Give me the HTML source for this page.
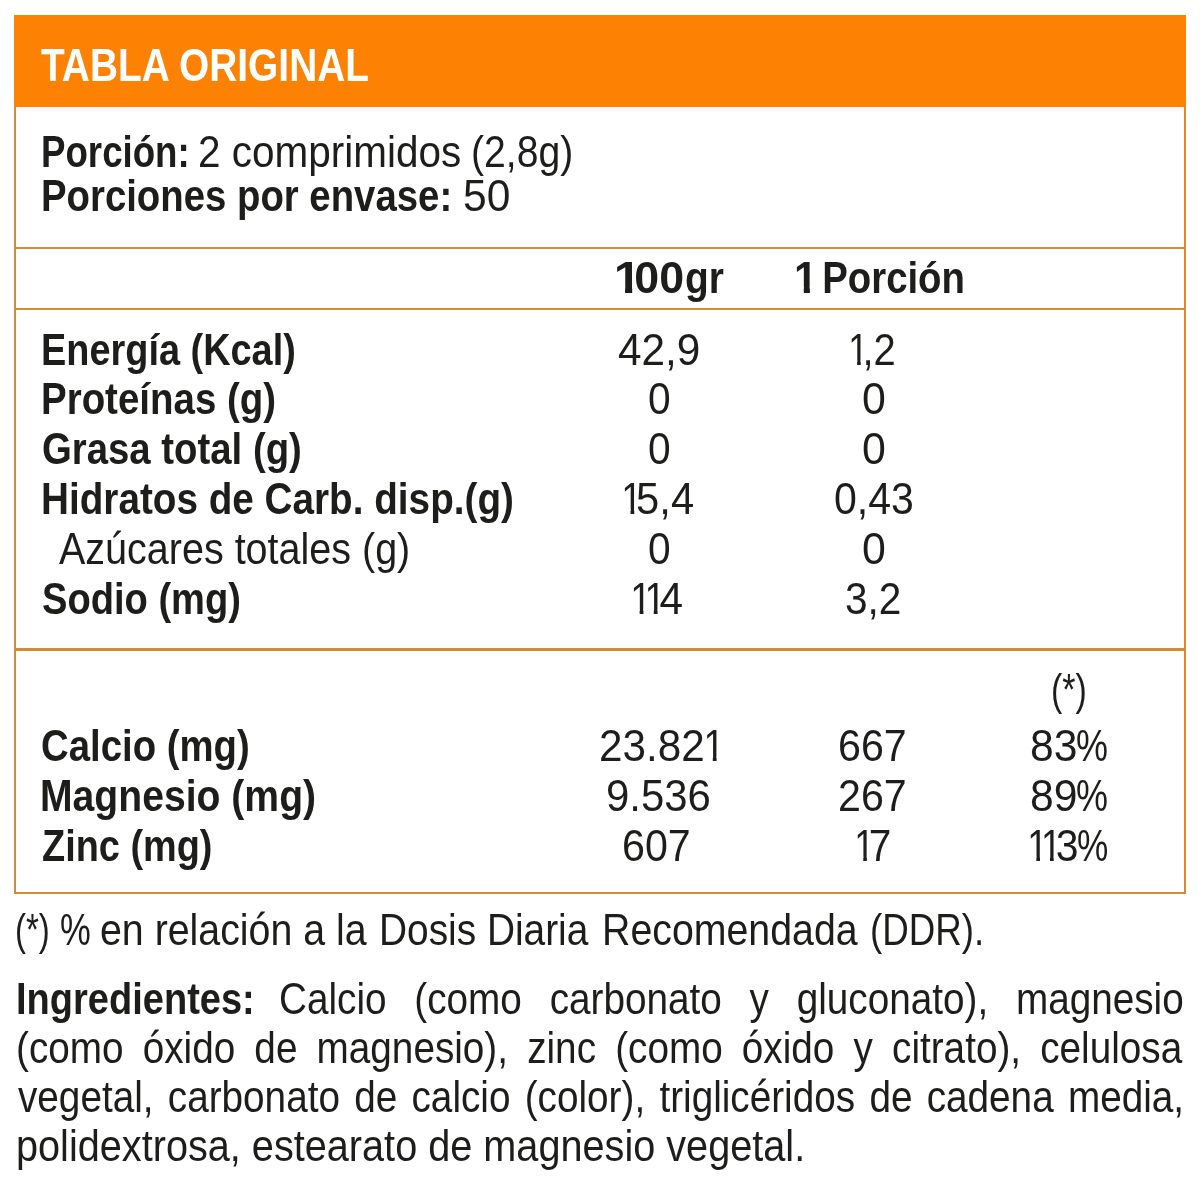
<!DOCTYPE html>
<html lang="es"><head><meta charset="utf-8"><title>Tabla Original</title><style>html,body{margin:0;padding:0;background:#fff}
body{width:1200px;height:1187px;position:relative;overflow:hidden;font-family:"Liberation Sans",sans-serif}
.t{position:absolute;white-space:pre;transform-origin:0 0;font-weight:400;line-height:1}
.t b{font-weight:700}
.t i{font-style:normal;display:inline-block;transform:scaleX(.9);margin:0 -0.168em 0 -0.051em;clip-path:polygon(0 0,100% 0,100% .738em,.345em .738em,.345em 1em,.245em 1em,.245em .738em,0 .738em)}
.t b i{transform:scaleX(1.1);margin:0 -0.124em 0 -0.024em;clip-path:polygon(0 0,100% 0,100% .698em,.375em .698em,.375em 1em,.23em 1em,.23em .698em,0 .698em)}
.j{white-space:normal;text-align:justify;text-align-last:justify}
.r{position:absolute}
</style></head><body>
<div class="r" style="left:14px;top:14.6px;width:1171.9px;height:92.2px;background:#fd8204"></div><div class="r" style="left:13.9px;top:106px;width:2.1px;height:787.8px;background:#d88a32"></div><div class="r" style="left:1183.9px;top:106px;width:2.1px;height:787.8px;background:#d88a32"></div><div class="r" style="left:14px;top:247.2px;width:1172px;height:2.3px;background:#d88a32"></div><div class="r" style="left:14px;top:307.5px;width:1172px;height:2.3px;background:#d88a32"></div><div class="r" style="left:14px;top:648.3px;width:1172px;height:2.4px;background:#d88a32"></div><div class="r" style="left:14px;top:891.6px;width:1172px;height:2.2px;background:#d88a32"></div>
<div class="t" style="left:41.00px;top:41.98px;font-size:46.5px;color:#fff;transform:scaleX(0.8353)"><b>TABLA ORIGINAL</b></div>
<div class="t" style="left:40.96px;top:128.55px;font-size:45.0px;color:#1d1d1b;transform:scaleX(0.8149)"><b>Porción:</b></div>
<div class="t" style="left:197.50px;top:128.55px;font-size:45.0px;color:#1d1d1b;transform:scaleX(0.8997)">2 comprimidos</div>
<div class="t" style="left:470.69px;top:128.55px;font-size:45.0px;color:#1d1d1b;transform:scaleX(0.8705)">(2,8g)</div>
<div class="t" style="left:40.84px;top:173.05px;font-size:45.0px;color:#1d1d1b;transform:scaleX(0.8518)"><b>Porciones por envase:</b></div>
<div class="t" style="left:463.11px;top:173.05px;font-size:45.0px;color:#1d1d1b;transform:scaleX(0.9457)">50</div>
<div class="t" style="left:615.91px;top:255.45px;font-size:45.0px;color:#1d1d1b;transform:scaleX(0.9939)"><b><i>1</i>00</b></div>
<div class="t" style="left:684.57px;top:255.45px;font-size:45.0px;color:#1d1d1b;transform:scaleX(0.8643)"><b>gr</b></div>
<div class="t" style="left:795.85px;top:255.45px;font-size:45.0px;color:#1d1d1b;transform:scaleX(0.8513)"><b><i>1</i> Porción</b></div>
<div class="t" style="left:40.87px;top:327.05px;font-size:45.0px;color:#1d1d1b;transform:scaleX(0.8421)"><b>Energía (Kcal)</b></div>
<div class="t" style="left:40.84px;top:376.05px;font-size:45.0px;color:#1d1d1b;transform:scaleX(0.8548)"><b>Proteínas (g)</b></div>
<div class="t" style="left:41.70px;top:426.05px;font-size:45.0px;color:#1d1d1b;transform:scaleX(0.8518)"><b>Grasa total (g)</b></div>
<div class="t" style="left:40.82px;top:476.05px;font-size:45.0px;color:#1d1d1b;transform:scaleX(0.8598)"><b>Hidratos de Carb. disp.(g)</b></div>
<div class="t" style="left:59.00px;top:526.05px;font-size:45.0px;color:#1d1d1b;transform:scaleX(0.8778)">Azúcares totales (g)</div>
<div class="t" style="left:41.71px;top:576.05px;font-size:45.0px;color:#1d1d1b;transform:scaleX(0.8468)"><b>Sodio (mg)</b></div>
<div class="t" style="left:618.06px;top:327.05px;font-size:45.0px;color:#1d1d1b;transform:scaleX(0.9405)">42,9</div>
<div class="t" style="left:648.19px;top:376.05px;font-size:45.0px;color:#1d1d1b;transform:scaleX(0.9048)">0</div>
<div class="t" style="left:648.19px;top:426.05px;font-size:45.0px;color:#1d1d1b;transform:scaleX(0.9048)">0</div>
<div class="t" style="left:622.22px;top:476.05px;font-size:45.0px;color:#1d1d1b;transform:scaleX(0.9274)"><i>1</i>5,4</div>
<div class="t" style="left:648.19px;top:526.05px;font-size:45.0px;color:#1d1d1b;transform:scaleX(0.9048)">0</div>
<div class="t" style="left:631.48px;top:576.05px;font-size:45.0px;color:#1d1d1b;transform:scaleX(0.9412)"><i>1</i><i>1</i>4</div>
<div class="t" style="left:849.04px;top:327.05px;font-size:45.0px;color:#1d1d1b;transform:scaleX(0.8875)"><i>1</i>,2</div>
<div class="t" style="left:862.10px;top:376.05px;font-size:45.0px;color:#1d1d1b;transform:scaleX(0.9524)">0</div>
<div class="t" style="left:862.10px;top:426.05px;font-size:45.0px;color:#1d1d1b;transform:scaleX(0.9524)">0</div>
<div class="t" style="left:834.18px;top:476.05px;font-size:45.0px;color:#1d1d1b;transform:scaleX(0.9120)">0,43</div>
<div class="t" style="left:862.10px;top:526.05px;font-size:45.0px;color:#1d1d1b;transform:scaleX(0.9524)">0</div>
<div class="t" style="left:844.90px;top:576.05px;font-size:45.0px;color:#1d1d1b;transform:scaleX(0.9017)">3,2</div>
<div class="t" style="left:41.30px;top:723.25px;font-size:45.0px;color:#1d1d1b;transform:scaleX(0.8519)"><b>Calcio (mg)</b></div>
<div class="t" style="left:40.39px;top:773.25px;font-size:45.0px;color:#1d1d1b;transform:scaleX(0.8696)"><b>Magnesio (mg)</b></div>
<div class="t" style="left:42.16px;top:823.25px;font-size:45.0px;color:#1d1d1b;transform:scaleX(0.8417)"><b>Zinc (mg)</b></div>
<div class="t" style="left:599.12px;top:723.25px;font-size:45.0px;color:#1d1d1b;transform:scaleX(0.9390)">23.82<i>1</i></div>
<div class="t" style="left:605.64px;top:773.25px;font-size:45.0px;color:#1d1d1b;transform:scaleX(0.9312)">9.536</div>
<div class="t" style="left:622.17px;top:823.25px;font-size:45.0px;color:#1d1d1b;transform:scaleX(0.9155)">607</div>
<div class="t" style="left:838.17px;top:723.25px;font-size:45.0px;color:#1d1d1b;transform:scaleX(0.9155)">667</div>
<div class="t" style="left:838.17px;top:773.25px;font-size:45.0px;color:#1d1d1b;transform:scaleX(0.9155)">267</div>
<div class="t" style="left:854.80px;top:823.25px;font-size:45.0px;color:#1d1d1b;transform:scaleX(0.9000)"><i>1</i>7</div>
<div class="t" style="left:1030.40px;top:723.25px;font-size:45.0px;color:#1d1d1b;transform:scaleX(0.9478)">83</div>
<div class="t" style="left:1076.10px;top:723.25px;font-size:45.0px;color:#1d1d1b;transform:scaleX(0.8000)">%</div>
<div class="t" style="left:1030.40px;top:773.25px;font-size:45.0px;color:#1d1d1b;transform:scaleX(0.9478)">89</div>
<div class="t" style="left:1076.10px;top:773.25px;font-size:45.0px;color:#1d1d1b;transform:scaleX(0.8000)">%</div>
<div class="t" style="left:1027.67px;top:823.25px;font-size:45.0px;color:#1d1d1b;transform:scaleX(0.9100)"><i>1</i><i>1</i>3</div>
<div class="t" style="left:1077.43px;top:823.25px;font-size:45.0px;color:#1d1d1b;transform:scaleX(0.7833)">%</div>
<div class="t" style="left:1051.14px;top:666.75px;font-size:45.0px;color:#1d1d1b;transform:scaleX(0.7548)">(*)</div>
<div class="t" style="left:15.30px;top:906.65px;font-size:45.0px;color:#1d1d1b;transform:scaleX(0.7333)">(*)</div>
<div class="t" style="left:60.46px;top:906.65px;font-size:45.0px;color:#1d1d1b;transform:scaleX(0.7694)">%</div>
<div class="t" style="left:100.05px;top:906.65px;font-size:45.0px;color:#1d1d1b;transform:scaleX(0.8736)">en relación a la</div>
<div class="t" style="left:379.05px;top:906.65px;font-size:45.0px;color:#1d1d1b;transform:scaleX(0.8630)">Dosis Diaria</div>
<div class="t" style="left:601.91px;top:906.65px;font-size:45.0px;color:#1d1d1b;transform:scaleX(0.8734)">Recomendada</div>
<div class="t" style="left:869.95px;top:906.65px;font-size:45.0px;color:#1d1d1b;transform:scaleX(0.8165)">(DDR).</div>
<div class="t" style="left:15.76px;top:976.15px;font-size:45.0px;color:#1d1d1b;transform:scaleX(0.8451)"><b>Ingredientes:</b></div>
<div class="t j" style="left:279.28px;top:976.15px;width:1052.02px;font-size:45.0px;color:#1d1d1b;transform:scaleX(0.8600)">Calcio (como carbonato y gluconato), magnesio</div>
<div class="t j" style="left:15.82px;top:1025.15px;width:1356.07px;font-size:45.0px;color:#1d1d1b;transform:scaleX(0.8600)">(como óxido de magnesio), zinc (como óxido y citrato), celulosa</div>
<div class="t j" style="left:18.30px;top:1074.15px;width:1355.93px;font-size:45.0px;color:#1d1d1b;transform:scaleX(0.8600)">vegetal, carbonato de calcio (color), triglicéridos de cadena media,</div>
<div class="t" style="left:15.56px;top:1122.65px;font-size:45.0px;color:#1d1d1b;transform:scaleX(0.8812)">polidextrosa, estearato de magnesio vegetal.</div>
</body></html>
